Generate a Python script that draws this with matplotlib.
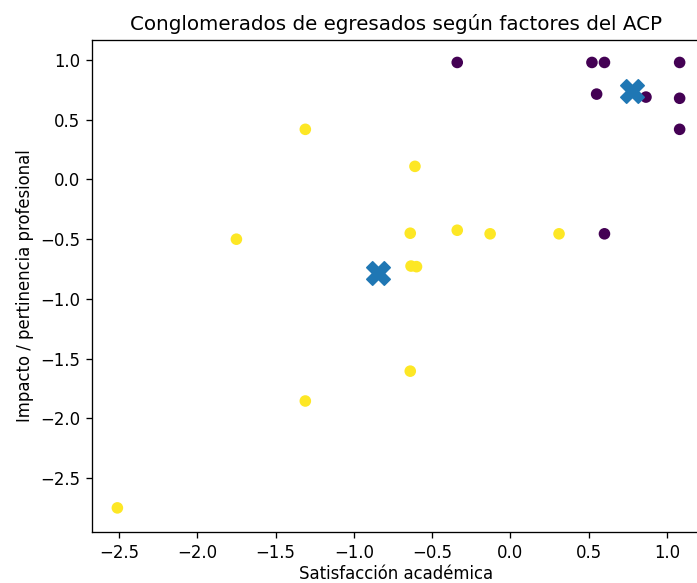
import matplotlib
matplotlib.use("Agg")
import matplotlib.pyplot as plt
import numpy as np

# puntajes de factores (ACP) por egresado
satisfaccion = [-2.51, -1.75, -1.31, -1.31, -0.61, -0.64, -0.635, -0.60, -0.64, -0.34, -0.13, 0.31,
                -0.34, 0.52, 0.60, 0.55, 0.865, 1.08, 1.08, 1.08, 0.60]
impacto = [-2.75, -0.50, 0.42, -1.855, 0.11, -0.45, -0.725, -0.73, -1.605, -0.425, -0.455, -0.455,
           0.98, 0.98, 0.98, 0.715, 0.69, 0.98, 0.68, 0.42, -0.455]
cluster = [1, 1, 1, 1, 1, 1, 1, 1, 1, 1, 1, 1,
           0, 0, 0, 0, 0, 0, 0, 0, 0]

centro_x = [-0.845, 0.775]
centro_y = [-0.785, 0.745]

dpi = 119
fig = plt.figure(figsize=(697 / dpi, 583 / dpi), dpi=dpi)
ax = fig.add_axes([92 / 697, 1 - 532 / 583, (700 - 92) / 697, (532 - 40) / 583])

ax.scatter(satisfaccion, impacto, c=cluster, cmap="viridis")
ax.scatter(centro_x, centro_y, marker="X", s=200)

ax.set_xlim(-2.672, 1.21)
ax.set_ylim(-2.952, 1.168)
ax.set_title("Conglomerados de egresados según factores del ACP")
ax.set_xlabel("Satisfacción académica", labelpad=2)
ax.set_ylabel("Impacto / pertinencia profesional")

fig.savefig("out.png", dpi=dpi)
